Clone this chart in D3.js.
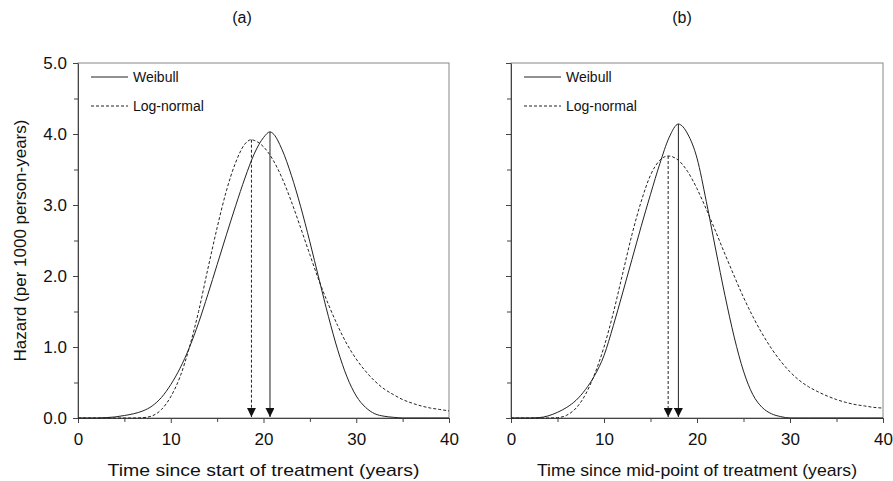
<!DOCTYPE html>
<html><head><meta charset="utf-8">
<script src="https://cdnjs.cloudflare.com/ajax/libs/d3/7.8.5/d3.min.js"></script>
<style>body{margin:0;background:#fff}svg{display:block}text{font-family:"Liberation Sans",Arial,sans-serif;fill:#111}</style>
</head><body><svg id="c" width="893" height="481"></svg>
<script>
// ---- data ----
const panelTitles = ["(a)", "(b)"];
const xTitles = ["Time since start of treatment (years)", "Time since mid-point of treatment (years)"];
const yTitle = "Hazard (per 1000 person-years)";
const seriesNames = ["Weibull", "Log-normal"];
const xMajorTicks = [0, 10, 20, 30, 40];
const xMinorTicks = [5, 15, 25, 35];
const yMajorTicks = [0, 1, 2, 3, 4, 5];
const yMinorTicks = [0.5, 1.5, 2.5, 3.5, 4.5];

// panel (a)
const weibullA_t = [0,1,2,3,4,5,6,7,8,9,10,11,12,13,14,15,16,17,18,19,20,20.7,21,22,23,24,25,26,27,28,29,30,31,32,33,34,35,36,37,38,39,40];
const weibullA_v = [0,0,0,0.005,0.015,0.035,0.06,0.1,0.17,0.29,0.47,0.7,0.99,1.34,1.74,2.16,2.58,2.99,3.38,3.72,3.95,4.03,4.01,3.78,3.42,2.98,2.48,1.95,1.43,0.96,0.58,0.31,0.15,0.06,0.025,0.01,0,0,0,0,0,0];
const lognormA_t = [0,1,2,3,4,5,6,7,8,9,10,11,12,13,14,15,16,17,18,18.7,19,20,21,22,23,24,25,26,27,28,29,30,31,32,33,34,35,36,37,38,39,40];
const lognormA_v = [0,0,0,0,0,0,0,0.005,0.03,0.12,0.3,0.58,0.99,1.5,2.1,2.68,3.2,3.6,3.86,3.92,3.91,3.82,3.64,3.38,3.05,2.68,2.3,1.93,1.6,1.3,1.04,0.83,0.66,0.52,0.41,0.33,0.26,0.21,0.17,0.14,0.12,0.1];
// panel (b)
const weibullB_t = [0,1,2,3,4,5,6,7,8,9,10,11,12,13,14,15,16,17,18,19,20,21,22,23,24,25,26,27,28,29,30,31,32,33,34,35,36,37,38,39,40];
const weibullB_v = [0,0,0,0.005,0.03,0.08,0.15,0.25,0.4,0.6,0.88,1.3,1.76,2.23,2.7,3.15,3.58,3.95,4.14,4.0,3.66,3.05,2.38,1.73,1.14,0.66,0.33,0.15,0.06,0.02,0,0,0,0,0,0,0,0,0,0,0];
const lognormB_t = [0,1,2,3,4,5,6,7,8,9,10,11,12,13,14,15,16,16.9,18,19,20,21,22,23,24,25,26,27,28,29,30,31,32,33,34,35,36,37,38,39,40];
const lognormB_v = [0,0,0,0,0,0.005,0.04,0.14,0.33,0.62,1.0,1.48,2.03,2.58,3.05,3.42,3.63,3.69,3.63,3.47,3.23,2.94,2.63,2.31,2.0,1.7,1.43,1.19,0.98,0.8,0.65,0.53,0.44,0.37,0.31,0.26,0.22,0.19,0.17,0.15,0.14];

// peak (arrow) positions
const arrowsA = [{t: 18.7, v: 3.92, dashed: true}, {t: 20.7, v: 4.03, dashed: false}];
const arrowsB = [{t: 16.9, v: 3.69, dashed: true}, {t: 18.0, v: 4.14, dashed: false}];

// ---- drawing ----
const svg = d3.select("#c");
const panels = [
  {x0: 78, x1: 449, title: panelTitles[0], titleX: 242, xTitle: xTitles[0], xTitleW: 312, labelsY: true,
   series: [{t: weibullA_t, v: weibullA_v, dashed: false}, {t: lognormA_t, v: lognormA_v, dashed: true}], arrows: arrowsA},
  {x0: 511, x1: 883, title: panelTitles[1], titleX: 682, xTitle: xTitles[1], xTitleW: 320, labelsY: false,
   series: [{t: weibullB_t, v: weibullB_v, dashed: false}, {t: lognormB_t, v: lognormB_v, dashed: true}], arrows: arrowsB}
];
const yTop = 63, yBot = 418;
const y = d3.scaleLinear().domain([0, 5]).range([yBot, yTop]);
const ink = "#222";

svg.append("defs").append("marker")
  .attr("id", "ah").attr("viewBox", "0 0 10 10").attr("refX", 10).attr("refY", 5)
  .attr("markerWidth", 10).attr("markerHeight", 9).attr("markerUnits", "userSpaceOnUse")
  .attr("orient", "auto")
  .append("path").attr("d", "M0,0 L10,5 L0,10 Z").attr("fill", "#111");

panels.forEach(p => {
  const x = d3.scaleLinear().domain([0, 40]).range([p.x0, p.x1]);
  const g = svg.append("g");

  // frame
  g.append("rect").attr("x", p.x0).attr("y", yTop).attr("width", p.x1 - p.x0).attr("height", yBot - yTop)
    .attr("fill", "none").attr("stroke", "#888").attr("stroke-width", 1);

  // x axis
  g.append("g").attr("transform", `translate(0,${yBot})`)
    .call(d3.axisBottom(x).tickValues(xMajorTicks).tickSize(5).tickSizeOuter(0).tickFormat(d3.format("d")).tickPadding(10));
  g.append("g").attr("transform", `translate(0,${yBot})`)
    .call(d3.axisBottom(x).tickValues(xMinorTicks).tickSize(4).tickSizeOuter(0).tickFormat(""))
    .select(".domain").remove();
  // y axis
  g.append("g").attr("transform", `translate(${p.x0},0)`)
    .call(d3.axisLeft(y).tickValues(yMajorTicks).tickSize(5).tickSizeOuter(0)
      .tickFormat(p.labelsY ? d3.format(".1f") : "").tickPadding(6));
  g.append("g").attr("transform", `translate(${p.x0},0)`)
    .call(d3.axisLeft(y).tickValues(yMinorTicks).tickSize(4).tickSizeOuter(0).tickFormat(""))
    .select(".domain").remove();
  g.selectAll(".domain").attr("stroke", "#444");
  g.selectAll(".tick line").attr("stroke", "#444");
  g.selectAll(".tick text").attr("font-size", 17).attr("fill", "#111")
    .attr("font-family", '"Liberation Sans", Arial, sans-serif');

  // curves
  p.series.forEach(s => {
    const pts = s.t.map((t, i) => [t, s.v[i]]);
    g.append("path").datum(pts)
      .attr("d", d3.line().x(d => x(d[0])).y(d => y(d[1])).curve(d3.curveMonotoneX))
      .attr("fill", "none").attr("stroke", ink).attr("stroke-width", 1)
      .attr("stroke-dasharray", s.dashed ? "3,2" : null);
  });

  // arrows
  p.arrows.forEach(a => {
    g.append("line").attr("x1", x(a.t)).attr("x2", x(a.t)).attr("y1", y(a.v)).attr("y2", yBot - 1)
      .attr("stroke", ink).attr("stroke-width", 1).attr("stroke-dasharray", a.dashed ? "3,2" : null)
      .attr("marker-end", "url(#ah)");
  });

  // legend
  const lg = [{name: seriesNames[0], dashed: false, yy: 77}, {name: seriesNames[1], dashed: true, yy: 106}];
  lg.forEach(l => {
    g.append("line").attr("x1", p.x0 + 13).attr("x2", p.x0 + 50).attr("y1", l.yy).attr("y2", l.yy)
      .attr("stroke", ink).attr("stroke-width", 1).attr("stroke-dasharray", l.dashed ? "3,2" : null);
    g.append("text").attr("x", p.x0 + 55).attr("y", l.yy).attr("dy", "0.35em")
      .attr("font-size", 14).text(l.name);
  });

  // titles
  g.append("text").attr("x", p.titleX).attr("y", 17).attr("dy", "0.35em").attr("text-anchor", "middle")
    .attr("font-size", 16).text(p.title);
  const cx = (p.x0 + p.x1) / 2;
  g.append("text").attr("x", cx).attr("y", 470).attr("dy", "0.35em").attr("text-anchor", "middle")
    .attr("font-size", 17).attr("textLength", p.xTitleW).attr("lengthAdjust", "spacingAndGlyphs")
    .text(p.xTitle);
});

svg.append("text").attr("transform", `translate(20,${(yTop + yBot) / 2}) rotate(-90)`)
  .attr("text-anchor", "middle").attr("dy", "0.35em").attr("font-size", 17).text(yTitle);
</script></body></html>
